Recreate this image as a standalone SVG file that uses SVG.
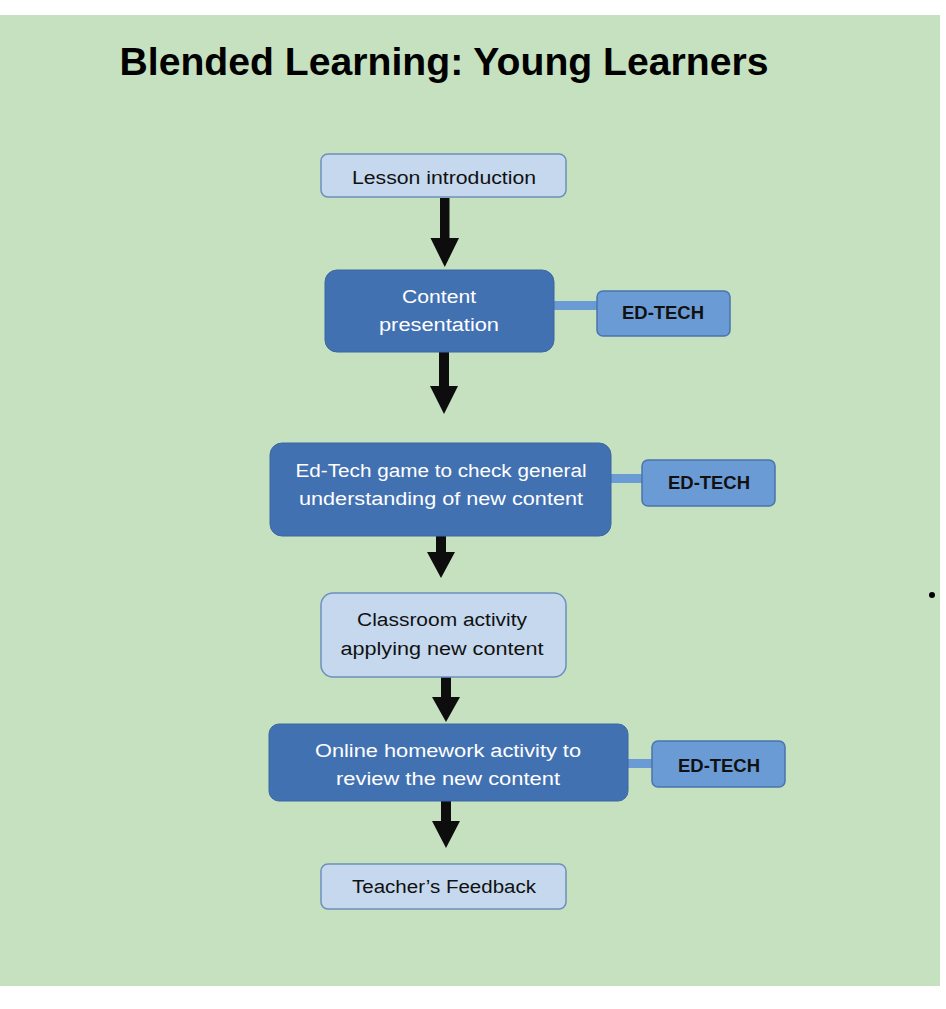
<svg xmlns="http://www.w3.org/2000/svg" width="946" height="1009" viewBox="0 0 946 1009">
<style>
.light{fill:#c5d8ee;stroke:#6e8fbd;stroke-width:1.5}
.dark{fill:#4271b2;stroke:#3d67a3;stroke-width:1}
.tag{fill:#6b9bd5;stroke:#4a74ad;stroke-width:1.5}
.bar{fill:#6b9bd5}
.arrow{fill:#0d0d0d}
.t{font-family:"Liberation Sans",Arial,sans-serif;font-size:18px;text-anchor:middle}
.tw{fill:#ffffff}
.tb{fill:#111111}
.tag-t{font-family:"Liberation Sans",Arial,sans-serif;font-size:18px;font-weight:bold;text-anchor:middle;fill:#111111}
</style>
<rect x="0" y="0" width="946" height="1009" fill="#ffffff"/>
<rect x="0" y="15" width="940" height="971" fill="#c5e1bf"/>
<text x="444" y="75" font-family="'Liberation Sans',Arial,sans-serif" font-size="39" font-weight="bold" fill="#000" text-anchor="middle" textLength="649" lengthAdjust="spacingAndGlyphs">Blended Learning: Young Learners</text>
<circle cx="932" cy="595" r="3" fill="#000"/>

<g id="connectors">
  <rect class="bar" x="553" y="301" width="45" height="9"/>
  <rect class="bar" x="610" y="474" width="33" height="9"/>
  <rect class="bar" x="627" y="759" width="26" height="9"/>
  <path class="arrow" d="M440,198 H449.5 V238 H459 L444.75,267 L430.5,238 H440 Z"/>
  <path class="arrow" d="M439,352 H449 V386 H458 L444,414 L430,386 H439 Z"/>
  <path class="arrow" d="M436,536 H446 V552 H455 L441,578 L427,552 H436 Z"/>
  <path class="arrow" d="M441,677 H451 V697 H460 L446,722 L432,697 H441 Z"/>
  <path class="arrow" d="M441,801 H451 V821 H460 L446,848 L432,821 H441 Z"/>
</g>

<g id="n-intro">
  <rect class="light" x="321" y="154" width="245" height="43" rx="7"/>
  <text class="t tb" x="444" y="184" textLength="184" lengthAdjust="spacingAndGlyphs">Lesson introduction</text>
</g>
<g id="n-content">
  <rect class="dark" x="325" y="270" width="229" height="82" rx="12"/>
  <text class="t tw" x="439" y="303" textLength="74" lengthAdjust="spacingAndGlyphs">Content</text>
  <text class="t tw" x="439" y="331" textLength="120" lengthAdjust="spacingAndGlyphs">presentation</text>
</g>
<g id="tag1">
  <rect class="tag" x="597" y="291" width="133" height="45" rx="6"/>
  <text class="tag-t" x="663" y="319" textLength="82" lengthAdjust="spacingAndGlyphs">ED-TECH</text>
</g>
<g id="n-game">
  <rect class="dark" x="270" y="443" width="341" height="93" rx="12"/>
  <text class="t tw" x="441" y="477" textLength="291" lengthAdjust="spacingAndGlyphs">Ed-Tech game to check general</text>
  <text class="t tw" x="441" y="505" textLength="284" lengthAdjust="spacingAndGlyphs">understanding of new content</text>
</g>
<g id="tag2">
  <rect class="tag" x="642" y="460" width="133" height="46" rx="6"/>
  <text class="tag-t" x="709" y="489" textLength="82" lengthAdjust="spacingAndGlyphs">ED-TECH</text>
</g>
<g id="n-classroom">
  <rect class="light" x="321" y="593" width="245" height="84" rx="12"/>
  <text class="t tb" x="442" y="626" textLength="170" lengthAdjust="spacingAndGlyphs">Classroom activity</text>
  <text class="t tb" x="442" y="655" textLength="203" lengthAdjust="spacingAndGlyphs">applying new content</text>
</g>
<g id="n-online">
  <rect class="dark" x="269" y="724" width="359" height="77" rx="10"/>
  <text class="t tw" x="448" y="757" textLength="266" lengthAdjust="spacingAndGlyphs">Online homework activity to</text>
  <text class="t tw" x="448" y="785" textLength="224" lengthAdjust="spacingAndGlyphs">review the new content</text>
</g>
<g id="tag3">
  <rect class="tag" x="652" y="741" width="133" height="46" rx="6"/>
  <text class="tag-t" x="719" y="772" textLength="82" lengthAdjust="spacingAndGlyphs">ED-TECH</text>
</g>
<g id="n-feedback">
  <rect class="light" x="321" y="864" width="245" height="45" rx="7"/>
  <text class="t tb" x="444" y="893" textLength="184" lengthAdjust="spacingAndGlyphs">Teacher’s Feedback</text>
</g>
</svg>
